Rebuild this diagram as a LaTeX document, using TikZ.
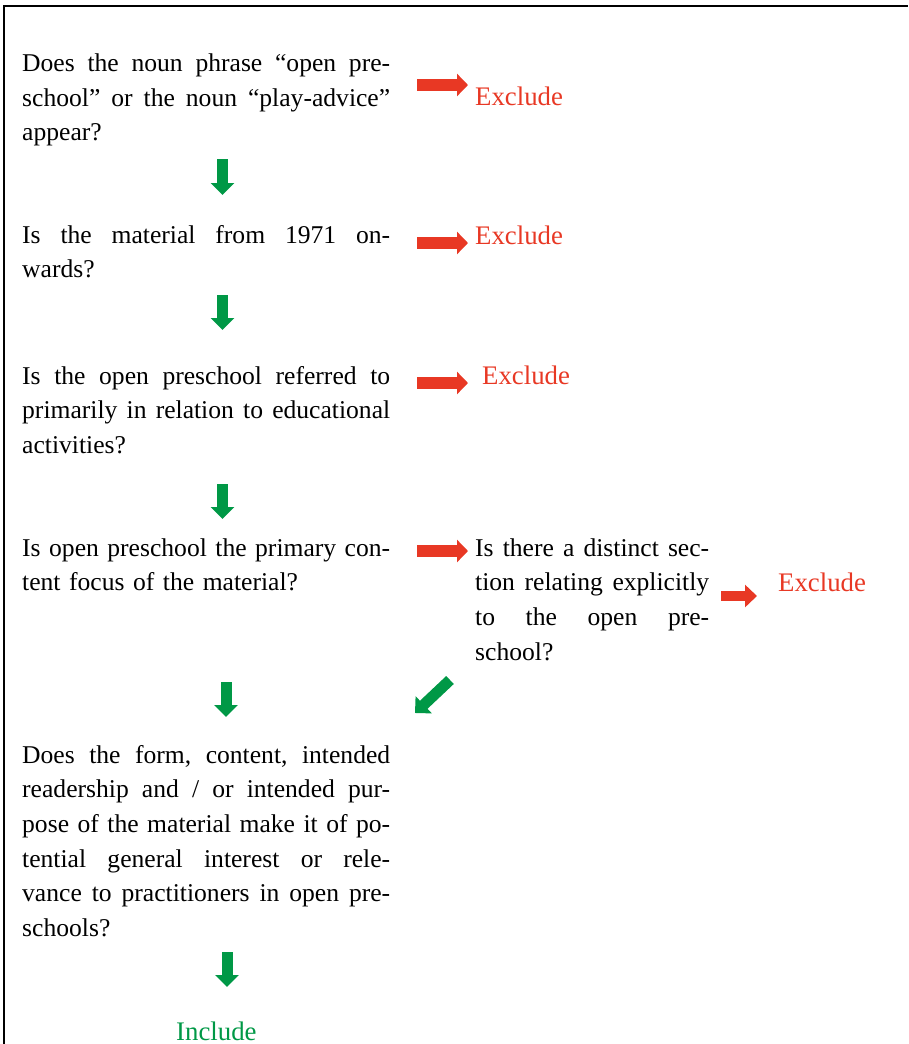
\documentclass[tikz,border=0pt]{standalone}
\usepackage{fontspec}
\setmainfont{Liberation Serif}
\usetikzlibrary{arrows.meta}
\definecolor{exred}{RGB}{232,56,36}
\definecolor{ingreen}{RGB}{0,152,70}
% a fully justified line of the given width (spaces share the extra room)
\newcommand\jline[2]{\leavevmode\hbox to #1{\frenchspacing
  \spaceskip=\fontdimen2\font plus 1fil\xspaceskip=0pt\relax #2}}
\begin{document}
\begin{tikzpicture}[x=1pt,y=-1pt,
  question/.style={anchor=base west,inner sep=0pt,align=left,
    font=\fontsize{25.6}{34.7}\selectfont},
  wide/.style={question,text width=368pt},
  narrow/.style={question,text width=234pt},
  verdict/.style={anchor=base west,inner sep=0pt,
    font=\fontsize{26.8}{34.7}\selectfont},
  exclude/.style={verdict,text=exred},
  include/.style={verdict,text=ingreen},
  noarrow/.style={draw=exred,line width=12pt,
    -{Triangle[length=11pt,width=22pt]}},
  smallno/.style={draw=exred,line width=10pt,
    -{Triangle[length=12pt,width=22pt]}},
  yesarrow/.style={draw=ingreen,line width=11pt,
    -{Triangle[length=12pt,width=23pt]}}]

\useasboundingbox (0,0) rectangle (908,1044);

% frame: top and left edges only
\draw[line width=2pt,line join=miter] (4,1044) -- (4,6) -- (908,6);

% questions
\node[wide] (q1) at (22,71.5) {%
  \jline{368pt}{Does the noun phrase “open pre-}\\
  \jline{368pt}{school” or the noun “play-advice”}\\
  appear?};
\node[wide] (q2) at (22,243) {%
  \jline{368pt}{Is the material from 1971 on-}\\
  wards?};
\node[wide] (q3) at (22,384) {%
  \jline{368pt}{Is the open preschool referred to}\\
  \jline{368pt}{primarily in relation to educational}\\
  activities?};
\node[wide] (q4) at (22,556) {%
  \jline{368pt}{Is open preschool the primary con-}\\
  tent focus of the material?};
\node[narrow] (q5) at (475,556) {%
  \jline{234pt}{Is there a distinct sec-}\\
  \jline{234pt}{tion relating explicitly}\\
  \jline{234pt}{to the open pre-}\\
  school?};
\node[wide] (q6) at (22,763) {%
  \jline{368pt}{Does the form, content, intended}\\
  \jline{368pt}{readership and / or intended pur-}\\
  \jline{368pt}{pose of the material make it of po-}\\
  \jline{368pt}{tential general interest or rele-}\\
  \jline{368pt}{vance to practitioners in open pre-}\\
  schools?};

% outcomes
\node[exclude] (x1) at (475,105) {Exclude};
\node[exclude] (x2) at (475,244) {Exclude};
\node[exclude] (x3) at (482,384) {Exclude};
\node[exclude] (x5) at (778,591) {Exclude};
\node[include] (in) at (176,1040) {Include};

% arrow end points
\coordinate (n1s) at (417,85);  \coordinate (n1e) at (468,85);
\coordinate (n2s) at (417,243); \coordinate (n2e) at (468,243);
\coordinate (n3s) at (417,383); \coordinate (n3e) at (468,383);
\coordinate (n4s) at (417,551); \coordinate (n4e) at (468,551);
\coordinate (n5s) at (721,596); \coordinate (n5e) at (757,596);
\coordinate (y1s) at (222.5,159); \coordinate (y1e) at (222.5,195);
\coordinate (y2s) at (222.5,295); \coordinate (y2e) at (222.5,330);
\coordinate (y3s) at (222.5,484); \coordinate (y3e) at (222.5,519);
\coordinate (y4s) at (226,682);   \coordinate (y4e) at (226,717);
\coordinate (y5s) at (227,952);   \coordinate (y5e) at (227,987);
\coordinate (y6s) at (450,680);   \coordinate (y6e) at (415,713);

% "no" answers
\draw[noarrow] (n1s) -- (n1e);
\draw[noarrow] (n2s) -- (n2e);
\draw[noarrow] (n3s) -- (n3e);
\draw[noarrow] (n4s) -- (n4e);
\draw[smallno] (n5s) -- (n5e);

% "yes" answers
\draw[yesarrow] (y1s) -- (y1e);
\draw[yesarrow] (y2s) -- (y2e);
\draw[yesarrow] (y3s) -- (y3e);
\draw[yesarrow] (y4s) -- (y4e);
\draw[yesarrow] (y5s) -- (y5e);
\draw[yesarrow] (y6s) -- (y6e);
\end{tikzpicture}
\end{document}
